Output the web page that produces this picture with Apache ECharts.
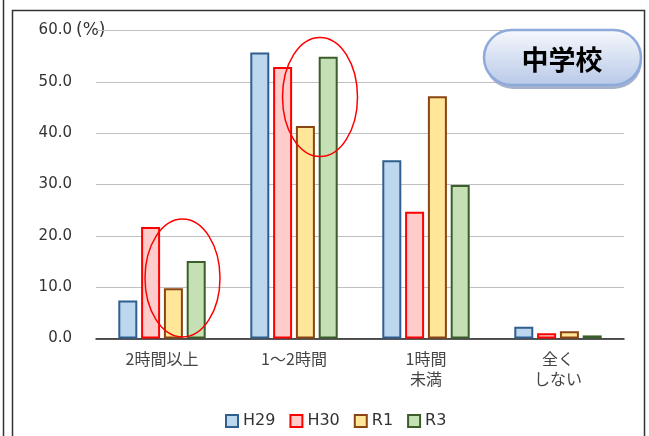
<!DOCTYPE html>
<html>
<head>
<meta charset="utf-8">
<script src="https://cdn.jsdelivr.net/npm/echarts@6/dist/echarts.min.js"></script>
<style>
  html, body { margin: 0; padding: 0; background: #fff; }
  #chart { width: 649px; height: 436px; }
</style>
</head>
<body>
<div id="chart"></div>
<script>
// データ（中学校）
const categories = ["2時間以上", "1～2時間", "1時間\n未満", "全く\nしない"];
const yearNames = ["H29", "H30", "R1", "R3"];
const h29 = [7.4, 55.7, 34.7, 2.3];
const h30 = [21.7, 52.9, 24.7, 1.0];
const r1 = [9.8, 41.4, 47.2, 1.4];
const r3 = [15.1, 54.9, 29.9, 0.6];
const yTicks = [0, 10, 20, 30, 40, 50, 60];

const fills = ["#bdd7ee", "#ffcccc", "#ffe699", "#c5e0b4"];
const borders = ["#2f5f8f", "#ff0000", "#8b4513", "#3b5e2b"];
const seriesData = [h29, h30, r1, r3];

const chart = echarts.init(document.getElementById("chart"));

const option = {
  animation: false,
  grid: { left: 96, right: 25, top: 30.5, bottom: 97.5 },
  legend: {
    data: yearNames,
    left: 220,
    top: 408,
    itemWidth: 12,
    itemHeight: 12,
    itemGap: 14,
    icon: "rect",
    textStyle: { fontFamily: "DejaVu Sans", fontSize: 16, color: "#333" },
  },
  xAxis: {
    type: "category",
    data: categories,
    axisTick: { show: false },
    axisLine: { lineStyle: { color: "#222", width: 1.5 } },
    axisLabel: {
      fontFamily: "Noto Sans CJK JP",
      fontSize: 16,
      color: "#444",
      lineHeight: 20,
      margin: 10,
    },
  },
  yAxis: {
    type: "value",
    min: 0,
    max: 60,
    interval: 10,
    axisLine: { show: false },
    axisTick: { show: false },
    splitLine: { lineStyle: { color: "#c0c0c0", width: 1 } },
    axisLabel: {
      fontFamily: "DejaVu Sans",
      fontSize: 15,
      color: "#333",
      margin: 24,
      formatter: (v) => (yTicks.includes(v) ? v.toFixed(1) : ""),
    },
  },
  series: yearNames.map((name, i) => ({
    name: name,
    type: "bar",
    data: seriesData[i],
    barWidth: 19,
    barGap: "20%",
    itemStyle: { color: fills[i], borderColor: borders[i], borderWidth: 2 },
  })),
  graphic: [
    // 外枠
    { type: "line", shape: { x1: 3.5, y1: 0, x2: 3.5, y2: 436 }, style: { stroke: "#333", lineWidth: 1.5 } },
    { type: "rect", shape: { x: 12.5, y: 10.5, width: 632, height: 440 }, style: { fill: "none", stroke: "#333", lineWidth: 1.5 }, z: 100 },
    // (%)
    {
      type: "text",
      x: 76,
      y: 31,
      style: { text: "(%)", font: "17px 'DejaVu Sans'", fill: "#333", verticalAlign: "middle" },
    },
    // 強調の楕円
    { type: "ellipse", shape: { cx: 182.5, cy: 278, rx: 37.5, ry: 59 }, style: { fill: "none", stroke: "#ff0000", lineWidth: 1.5 }, z: 100 },
    { type: "ellipse", shape: { cx: 320, cy: 97, rx: 37.5, ry: 59.5 }, style: { fill: "none", stroke: "#ff0000", lineWidth: 1.5 }, z: 100 },
    // 中学校バッジ
    {
      type: "rect",
      shape: { x: 485, y: 33, width: 157, height: 56, r: 28 },
      style: { fill: "#8d9fbf", opacity: 0.8 },
      z: 101,
    },
    {
      type: "rect",
      shape: { x: 484, y: 30, width: 157, height: 55, r: 27.5 },
      style: {
        fill: new echarts.graphic.LinearGradient(0, 0, 0, 1, [
          { offset: 0, color: "#f7f9fd" },
          { offset: 1, color: "#b7c8e7" },
        ]),
        stroke: "#8eaadb",
        lineWidth: 2.5,
      },
      z: 102,
    },
    {
      type: "text",
      x: 562,
      y: 60,
      style: {
        text: "中学校",
        fontFamily: "Noto Sans CJK JP",
        fontWeight: "bold",
        fontSize: 27,
        fill: "#000",
        align: "center",
        verticalAlign: "middle",
      },
      z: 103,
    },
  ],
};

chart.setOption(option);
</script>
</body>
</html>
